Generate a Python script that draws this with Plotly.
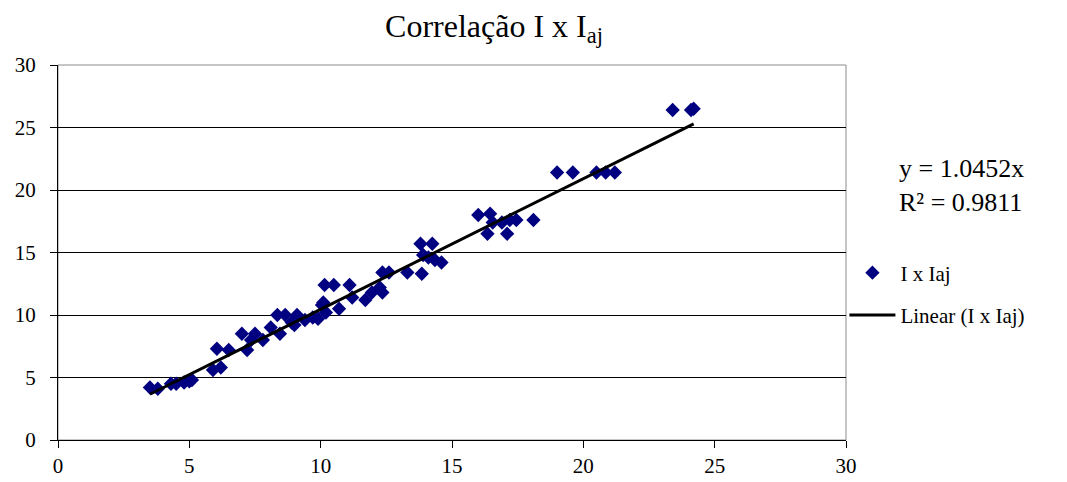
import plotly.graph_objects as go

# Data
x_vals = [3.5, 3.8, 4.3, 4.5, 4.8, 5.0, 5.1, 5.9, 6.2, 6.05, 6.5, 7.0, 7.2, 7.5, 7.35, 7.8,
          8.1, 8.35, 8.65, 8.45, 9.1, 9.0, 9.4, 9.7, 10.05, 10.2, 10.15, 10.5, 10.1, 10.7,
          11.1, 11.2, 11.7, 11.95, 12.25, 12.35, 12.6, 12.35, 13.3, 13.85, 13.8, 14.25,
          14.1, 14.35, 14.6, 13.9, 16.0, 16.45, 16.55, 16.9, 17.2, 17.45, 18.1, 16.35,
          17.1, 19.0, 19.6, 20.5, 20.85, 21.2, 23.4, 24.1, 24.2, 9.9, 8.9]
y_vals = [4.2, 4.1, 4.5, 4.5, 4.6, 4.7, 4.8, 5.6, 5.8, 7.3, 7.2, 8.5, 7.2, 8.5, 8.0, 8.0,
          9.0, 10.0, 10.0, 8.5, 10.0, 9.2, 9.6, 9.8, 10.8, 10.2, 12.4, 12.4, 11.0, 10.5,
          12.4, 11.4, 11.2, 11.8, 12.2, 13.4, 13.4, 11.8, 13.4, 13.3, 15.7, 15.7,
          14.6, 14.4, 14.2, 14.8, 18.0, 18.1, 17.4, 17.4, 17.6, 17.6, 17.6, 16.5,
          16.5, 21.4, 21.4, 21.4, 21.4, 21.4, 26.4, 26.4, 26.5, 9.7, 9.4]
slope = 1.0452
r2 = 0.9811
x_ticks = [0, 5, 10, 15, 20, 25, 30]
y_ticks = [0, 5, 10, 15, 20, 25, 30]

FONT = "Liberation Serif, Times New Roman, serif"

x_min, x_max = min(x_vals), max(x_vals)
trend_x = [x_min, x_max]
trend_y = [slope * v for v in trend_x]

fig = go.Figure()
fig.add_trace(go.Scatter(
    x=x_vals, y=y_vals, mode="markers", name="I x Iaj",
    marker=dict(symbol="diamond", size=11, color="#000080"),
    legendgroup="a",
))
fig.add_trace(go.Scatter(
    x=trend_x, y=trend_y, mode="lines", name="Linear (I x Iaj)",
    line=dict(color="black", width=3),
    legendgroup="b",
))

fig.update_layout(
    width=1067, height=482,
    margin=dict(l=58, r=221, t=65, b=42, autoexpand=False),
    paper_bgcolor="white", plot_bgcolor="white",
    font=dict(family=FONT, color="black", size=21),
    title=dict(text="Correlação I x I<sub>aj</sub>", x=0.463, xref="container",
               y=0.947, yref="container", xanchor="center", yanchor="middle",
               font=dict(family=FONT, size=32, color="black")),
    showlegend=True,
    legend=dict(x=0.998, xanchor="left", y=0.50, yanchor="top",
                font=dict(family=FONT, size=21, color="black"),
                tracegroupgap=12, itemwidth=46, bgcolor="rgba(0,0,0,0)"),
    xaxis=dict(range=[0, 30], tickvals=x_ticks, showgrid=False, zeroline=False,
               showline=True, linecolor="black", linewidth=1, automargin=False,
               ticks="outside", ticklen=7, tickcolor="black",
               tickfont=dict(family=FONT, size=21, color="black")),
    yaxis=dict(range=[0, 30], tickvals=y_ticks, showgrid=True, gridcolor="black",
               gridwidth=1, zeroline=False, automargin=False,
               showline=True, linecolor="black", linewidth=1,
               ticks="outside", ticklen=7, tickcolor="black",
               ticklabelstandoff=10,
               tickfont=dict(family=FONT, size=21, color="black")),
    shapes=[dict(type="rect", xref="paper", yref="paper", x0=0, y0=0, x1=1, y1=1,
                 line=dict(color="#8c8c8c", width=1), layer="below")],
    annotations=[dict(text=f"y = {slope}x<br>R² = {r2}", xref="paper", yref="paper",
                      x=1.147, y=0.68, xanchor="center", yanchor="middle",
                      showarrow=False, align="left",
                      font=dict(family=FONT, size=26, color="black"))],
)

fig.write_html("out.html")
